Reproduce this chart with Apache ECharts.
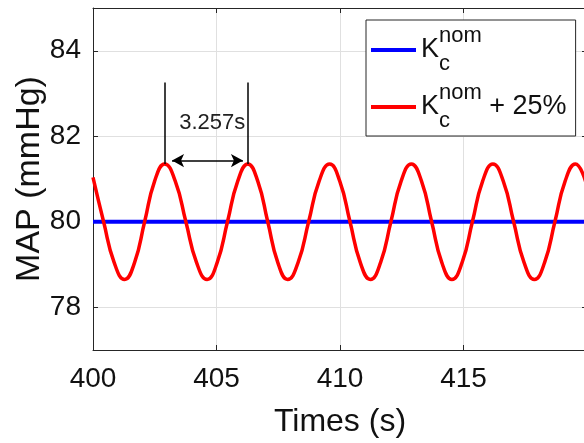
<!DOCTYPE html>
<html>
<head>
<meta charset="utf-8">
<script src="https://cdn.jsdelivr.net/npm/echarts@6/dist/echarts.min.js"></script>
<style>
  html, body { margin: 0; padding: 0; background: #fff; }
  #chart { width: 584px; height: 443px; }
</style>
</head>
<body>
<div id="chart"></div>
<script>
// values
const blueTimes = [400, 420];
const blueValues = [80, 80];

const redTimes = [
  400.00, 400.43, 400.855, 401.28,
  401.685, 402.09, 402.495, 402.90,
  403.33, 403.76, 404.19, 404.62,
  405.03, 405.445, 405.86, 406.27,
  406.67, 407.075, 407.48, 407.88,
  408.305, 408.73, 409.155, 409.58,
  409.99, 410.405, 410.82, 411.23,
  411.645, 412.06, 412.475, 412.89,
  413.30, 413.71, 414.12, 414.53,
  414.945, 415.36, 415.775, 416.19,
  416.61, 417.03, 417.45, 417.87,
  418.285, 418.70, 419.115, 419.53,
  419.95
];
const redValues = [
  81.04, 80.00, 79.05, 78.65,
  79.05, 80.00, 80.95, 81.35,
  80.95, 80.00, 79.05, 78.65,
  79.05, 80.00, 80.95, 81.35,
  80.95, 80.00, 79.05, 78.65,
  79.05, 80.00, 80.95, 81.35,
  80.95, 80.00, 79.05, 78.65,
  79.05, 80.00, 80.95, 81.35,
  80.95, 80.00, 79.05, 78.65,
  79.05, 80.00, 80.95, 81.35,
  80.95, 80.00, 79.05, 78.65,
  79.05, 80.00, 80.95, 81.35,
  80.93
];

const yTicks = [78, 80, 82, 84];

// period annotation
const markPeaks = [402.90, 406.27];
const peakValue = 81.35;
const markTop = 83.26;
const arrowFrom = [403.2, 81.43];
const arrowTo = [406.07, 81.43];
const periodLabel = '3.257s';
const periodLabelAt = [404.83, 82.31];

const AXIS_COLOR = '#262626';
const GRID_COLOR = '#e0e0e0';
const FONT = '"Liberation Sans", Arial, Helvetica, sans-serif';

const legendText = {
  'K_c^nom': '{k|K}{sub|c}{sup|nom}',
  'K_c^nom + 25%': '{k|K}{sub|c}{sup|nom}{k| + 25%}'
};

const chart = echarts.init(document.getElementById('chart'));

const baseX = {
  type: 'value',
  min: 400,
  max: 420,
  interval: 5,
  axisLine: { show: true, lineStyle: { color: AXIS_COLOR, width: 1 } },
  axisTick: { show: true, inside: true, length: 5, lineStyle: { color: AXIS_COLOR } }
};
const baseY = {
  type: 'value',
  min: 77,
  max: 85,
  axisLine: { show: true, lineStyle: { color: AXIS_COLOR, width: 1 } },
  axisTick: { show: true, inside: true, length: 5, customValues: yTicks, lineStyle: { color: AXIS_COLOR } }
};

chart.setOption({
  animation: false,
  backgroundColor: '#fff',
  textStyle: { fontFamily: FONT },
  grid: { left: 93, right: -3, top: 8, bottom: 93, containLabel: false, outerBoundsMode: 'none' },
  xAxis: [
    Object.assign({}, baseX, {
      position: 'bottom',
      name: 'Times (s)',
      nameLocation: 'middle',
      nameGap: 56,
      nameMoveOverlap: false,
      nameTextStyle: { fontSize: 32, color: '#111', fontFamily: FONT },
      axisLabel: { fontSize: 28, color: '#111', margin: 15, showMaxLabel: false, fontFamily: FONT },
      splitLine: { show: true, lineStyle: { color: GRID_COLOR, width: 1 } }
    }),
    Object.assign({}, baseX, {
      position: 'top',
      axisLabel: { show: false },
      splitLine: { show: false }
    })
  ],
  yAxis: [
    Object.assign({}, baseY, {
      position: 'left',
      name: 'MAP (mmHg)',
      nameLocation: 'middle',
      nameGap: 46,
      nameMoveOverlap: false,
      nameTextStyle: { fontSize: 34, color: '#111', fontFamily: FONT },
      axisLabel: { fontSize: 28, color: '#111', margin: 12, customValues: yTicks, fontFamily: FONT },
      splitLine: { show: true, lineStyle: { color: GRID_COLOR, width: 1 } }
    }),
    Object.assign({}, baseY, {
      position: 'right',
      axisLabel: { show: false },
      splitLine: { show: false }
    })
  ],
  legend: {
    left: 366,
    top: 20,
    orient: 'vertical',
    icon: 'rect',
    itemWidth: 45,
    itemHeight: 4,
    itemGap: 7,
    padding: [5, 9, 4, 5],
    backgroundColor: '#fff',
    borderColor: AXIS_COLOR,
    borderWidth: 1,
    borderRadius: 0,
    data: ['K_c^nom', 'K_c^nom + 25%'],
    formatter: name => legendText[name],
    textStyle: {
      fontFamily: FONT,
      color: '#111',
      lineHeight: 50,
      rich: {
        k: { fontSize: 27, color: '#111', fontFamily: FONT, lineHeight: 50, verticalAlign: 'middle' },
        sub: { fontSize: 22, color: '#111', fontFamily: FONT, lineHeight: 20, width: 0, verticalAlign: 'bottom' },
        sup: { fontSize: 22, color: '#111', fontFamily: FONT, lineHeight: 26, verticalAlign: 'top' }
      }
    }
  },
  series: [
    {
      name: 'K_c^nom',
      type: 'line',
      showSymbol: false,
      symbol: 'none',
      color: '#0000ff',
      lineStyle: { color: '#0000ff', width: 4 },
      data: blueTimes.map((t, i) => [t, blueValues[i]]),
      z: 3
    },
    {
      name: 'K_c^nom + 25%',
      type: 'line',
      showSymbol: false,
      symbol: 'none',
      smooth: 0.5,
      color: '#ff0000',
      lineStyle: { color: '#ff0000', width: 3.5 },
      data: redTimes.map((t, i) => [t, redValues[i]]),
      z: 4,
      markLine: {
        silent: true,
        animation: false,
        symbolSize: [10, 12],
        lineStyle: { color: '#000', width: 1.5, type: 'solid' },
        label: { show: false },
        emphasis: { disabled: true },
        data: [
          [{ coord: [markPeaks[0], peakValue], symbol: 'none' }, { coord: [markPeaks[0], markTop], symbol: 'none' }],
          [{ coord: [markPeaks[1], peakValue], symbol: 'none' }, { coord: [markPeaks[1], markTop], symbol: 'none' }],
          [{ coord: arrowFrom, symbol: 'arrow' }, { coord: arrowTo, symbol: 'arrow' }]
        ]
      },
      markPoint: {
        silent: true,
        animation: false,
        symbol: 'circle',
        symbolSize: 0,
        itemStyle: { color: 'rgba(0,0,0,0)' },
        label: { show: true, position: 'inside', fontSize: 22, color: '#222', fontFamily: FONT },
        data: [{ coord: periodLabelAt, value: periodLabel, label: { formatter: periodLabel } }]
      }
    }
  ]
});
</script>
</body>
</html>
